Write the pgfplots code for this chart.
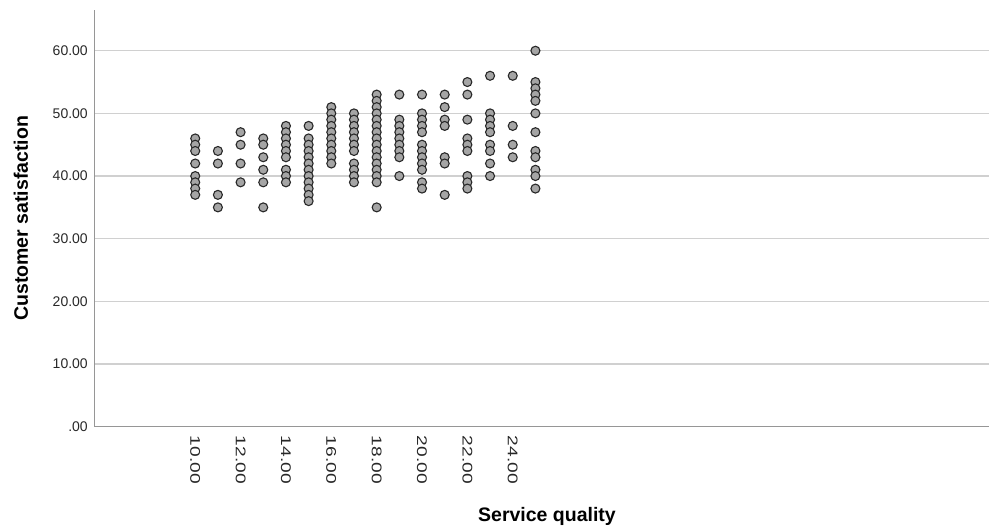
\documentclass[border=0pt]{standalone}
\usepackage{pgfplots}
\pgfplotsset{compat=1.18}
\usepackage{fontspec}
\setmainfont{Liberation Sans}
\newfontfamily\widefont[FakeStretch=1.37]{Liberation Sans}
\definecolor{gridc}{RGB}{208,208,208}
\definecolor{axisc}{RGB}{150,150,150}
\definecolor{markfill}{RGB}{165,165,165}
\definecolor{markedge}{RGB}{40,40,40}
\definecolor{tickc}{RGB}{40,40,40}
\pgfplotstableread{
x y
10 46
10 45
10 44
10 42
10 40
10 39
10 38
10 37
11 44
11 42
11 37
11 35
12 47
12 45
12 42
12 39
13 46
13 45
13 43
13 41
13 39
13 35
14 48
14 47
14 46
14 45
14 44
14 43
14 41
14 40
14 39
15 48
15 46
15 45
15 44
15 43
15 42
15 41
15 40
15 39
15 38
15 37
15 36
16 51
16 50
16 49
16 48
16 47
16 46
16 45
16 44
16 43
16 42
17 50
17 49
17 48
17 47
17 46
17 45
17 44
17 42
17 41
17 40
17 39
18 53
18 52
18 51
18 50
18 49
18 48
18 47
18 46
18 45
18 44
18 43
18 42
18 41
18 40
18 39
18 35
19 53
19 49
19 48
19 47
19 46
19 45
19 44
19 43
19 40
20 53
20 50
20 49
20 48
20 47
20 45
20 44
20 43
20 42
20 41
20 39
20 38
21 53
21 51
21 49
21 48
21 43
21 42
21 37
22 55
22 53
22 49
22 46
22 45
22 44
22 40
22 39
22 38
23 56
23 50
23 49
23 48
23 47
23 45
23 44
23 42
23 40
24 56
24 48
24 45
24 43
25 60
25 55
25 54
25 53
25 52
25 50
25 47
25 44
25 43
25 41
25 40
25 38
}\datatable
\begin{document}
\begin{tikzpicture}
\useasboundingbox (0,0) rectangle (989bp,528bp);
\begin{axis}[
  at={(94.3bp,101.3bp)}, anchor=south west,
  scale only axis, width=894.7bp, height=416.7bp,
  xmin=5.55, xmax=45, ymin=0, ymax=66.5,
  axis lines=left,
  axis line style={axisc, line width=1.3bp, -},
  ymajorgrids,
  grid style={gridc, line width=1.3bp},
  major tick length=0pt,
  ytick={0,10,20,30,40,50,60},
  yticklabels={.00,10.00,20.00,30.00,40.00,50.00,60.00},
  xtick={10,12,14,16,18,20,22,24},
  xticklabels={10.00,12.00,14.00,16.00,18.00,20.00,22.00,24.00},
  yticklabel style={font=\fontsize{14bp}{16bp}\selectfont, text=tickc, xshift=-3bp},
  xticklabel style={font=\widefont\fontsize{14bp}{16bp}\selectfont, text=tickc, rotate=-90, anchor=west, inner xsep=9bp},
  xlabel={Service quality},
  ylabel={Customer satisfaction},
  xlabel style={font=\bfseries\fontsize{19.5bp}{22bp}\selectfont, at={(axis description cs:0.506,-0.2143)}, anchor=center},
  ylabel style={font=\bfseries\fontsize{19.5bp}{22bp}\selectfont, at={(axis description cs:-0.0819,0.5)}, anchor=center},
]
\addplot[only marks, mark=*, mark size=4.5bp, mark options={fill=markfill, draw=markedge, line width=1.1bp}] table[x=x,y=y] {\datatable};
\end{axis}
\end{tikzpicture}
\end{document}
